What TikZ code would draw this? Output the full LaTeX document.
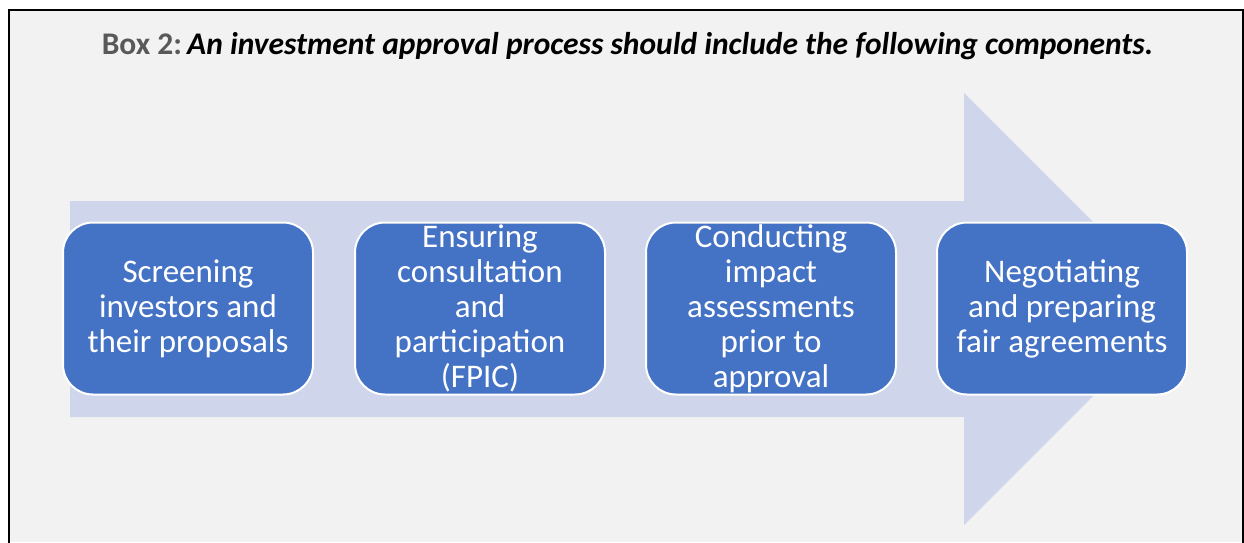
\documentclass[tikz,border=0pt]{standalone}
\usepackage{fontspec}
\setmainfont{Carlito}
\definecolor{bgc}{HTML}{F2F2F2}
\definecolor{arrowc}{HTML}{CFD5EA}
\definecolor{boxc}{HTML}{4472C4}
\definecolor{titlegray}{HTML}{595959}
\begin{document}
\begin{tikzpicture}[x=1pt,y=-1pt,
  stepbox/.style={draw=white, line width=2pt, fill=boxc, rounded corners=30pt,
    minimum width=250pt, minimum height=172pt, inner sep=0pt},
  boxtext/.style={text=white, align=center, inner sep=0pt,
    font=\fontsize{33}{35}\selectfont}]
\useasboundingbox (0,0) rectangle (1244,542);
\fill[white] (0,0) rectangle (1244,542);
\fill[bgc] (9,10) rectangle (1243,542);
\draw[line width=2pt] (9,543) -- (9,10) -- (1243,10) -- (1243,543);
\fill[arrowc] (70,201) -- (964,201) -- (964,93) -- (1180,309) -- (964,525) -- (964,417) -- (70,417) -- cycle;
\node[anchor=base, inner sep=0pt, font=\fontsize{31.5}{36}\selectfont\bfseries] (title) at (627.5,54)
  {\textcolor{titlegray}{Box 2:}\,\textit{An investment approval process should include the following components.}};
\node[stepbox] (b1) at (188,308.5) {};
\node[stepbox] (b2) at (480,308.5) {};
\node[stepbox] (b3) at (771,308.5) {};
\node[stepbox] (b4) at (1062,308.5) {};
\node[boxtext] (t1) at (b1.center) {Screening\\investors and\\their proposals};
\node[boxtext] (t2) at (b2.center) {Ensuring\\consultation\\and\\participation\\(FPIC)};
\node[boxtext] (t3) at (b3.center) {Conducting\\impact\\assessments\\prior to\\approval};
\node[boxtext] (t4) at (b4.center) {Negotiating\\and preparing\\fair agreements};
\end{tikzpicture}
\end{document}
